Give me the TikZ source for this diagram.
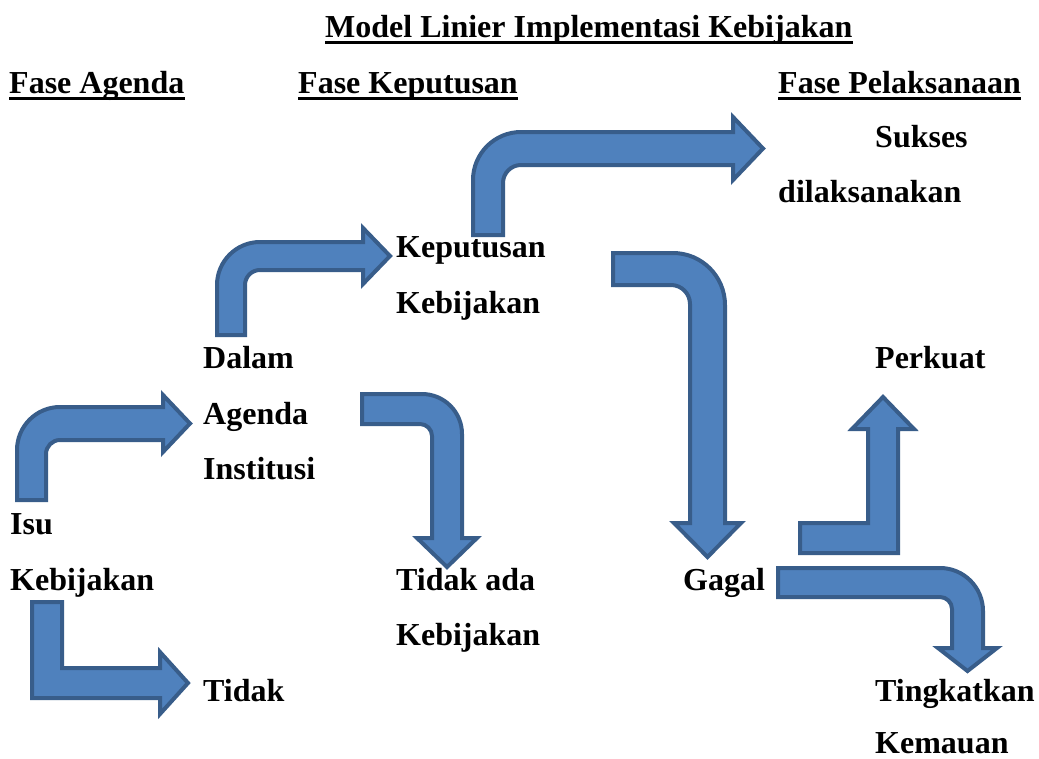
\documentclass[tikz,border=0pt]{standalone}
\usepackage{fontspec}
\setmainfont{Liberation Serif}
\usetikzlibrary{calc}
\definecolor{afill}{HTML}{4F81BD}
\definecolor{aline}{HTML}{385D8A}
\tikzset{
  blockarrow/.style={fill=afill, draw=aline, line width=4pt, line join=miter},
  lbl/.style={anchor=base west, inner sep=0pt, font=\fontsize{32}{38}\selectfont\bfseries},
  uline/.style={line width=2.6pt, black}
}
\begin{document}
\begin{tikzpicture}[x=1pt,y=-1pt]
\useasboundingbox (0,0) rectangle (1039,758);
% headings
\node[lbl] (title) at (325,37) {Model Linier Implementasi Kebijakan};
\node[lbl] (hA) at (9,93) {Fase Agenda};
\node[lbl] (hK) at (298,93) {Fase Keputusan};
\node[lbl] (hP) at (778,93) {Fase Pelaksanaan};
\foreach \n in {title,hA,hK,hP}{
  \draw[uline] ($(\n.base west)+(0,5.5)$) -- ($(\n.base east)+(0,5.5)$);
}
% labels
\node[lbl] (sukses1) at (875,147) {Sukses};
\node[lbl] (sukses2) at (778,202.4) {dilaksanakan};
\node[lbl] (kep1) at (396,257.8) {Keputusan};
\node[lbl] (kep2) at (396,313.2) {Kebijakan};
\node[lbl] (dal1) at (203,368.6) {Dalam};
\node[lbl] (dal2) at (203,424) {Agenda};
\node[lbl] (dal3) at (203,479.4) {Institusi};
\node[lbl] (perkuat) at (875,368.6) {Perkuat};
\node[lbl] (isu1) at (10,534.8) {Isu};
\node[lbl] (isu2) at (10,590.2) {Kebijakan};
\node[lbl] (tak1) at (396,590.2) {Tidak ada};
\node[lbl] (tak2) at (396,645.6) {Kebijakan};
\node[lbl] (gagal) at (683,590.2) {Gagal};
\node[lbl] (tidak) at (203,701) {Tidak};
\node[lbl] (ting1) at (875,701) {Tingkatkan};
\node[lbl, text depth=0pt] (ting2) at (875,753) {Kemauan};
% arrow: Isu -> Dalam Agenda
\draw[blockarrow] (17,500) -- (17,450) .. controls (17,426.3) and (36.3,407) .. (60,407) -- (163,407) -- (163,395) -- (190,423.5) -- (163,452) -- (163,440) -- (60,440) .. controls (52.3,440) and (46,446.3) .. (46,454) -- (46,500) -- cycle;
% arrow: Dalam -> Keputusan
\draw[blockarrow] (217,335) -- (217,285) .. controls (217,261.3) and (236.3,242) .. (260,242) -- (363,242) -- (363,228) -- (390,256) -- (363,284) -- (363,270) -- (260,270) .. controls (251.7,270) and (245,276.7) .. (245,285) -- (245,335) -- cycle;
% arrow: Keputusan -> Sukses
\draw[blockarrow] (473,235) -- (473,180) .. controls (473,153.5) and (494.5,132) .. (521,132) -- (733,132) -- (733,117) -- (763,148.5) -- (733,180) -- (733,165) -- (521,165) .. controls (511.1,165) and (503,173.1) .. (503,183) -- (503,235) -- cycle;
% arrow: Keputusan -> Gagal
\draw[blockarrow] (613,253) -- (673,253) .. controls (701.7,253) and (725,276.3) .. (725,305) -- (725,523) -- (741,523) -- (707.5,557) -- (674,523) -- (690,523) -- (690,304) .. controls (690,293.5) and (681.5,285) .. (671,285) -- (613,285) -- cycle;
% arrow: Dalam Agenda -> Tidak ada Kebijakan
\draw[blockarrow] (362,394) -- (422,394) .. controls (444.1,394) and (462,411.9) .. (462,434) -- (462,538) -- (477,538) -- (447,567) -- (417,538) -- (432,538) -- (432,436) .. controls (432,429.4) and (426.6,424) .. (420,424) -- (362,424) -- cycle;
% arrow: Isu -> Tidak
\draw[blockarrow] (32,602) -- (62,602) -- (62,668) -- (160,668) -- (160,652) -- (188,683) -- (160,714) -- (160,698) -- (32,698) -- cycle;
% arrow: Gagal -> Perkuat
\draw[blockarrow] (800,523) -- (868,523) -- (868,429) -- (852,429) -- (883,397) -- (914,429) -- (898,429) -- (898,553) -- (800,553) -- cycle;
% arrow: Gagal -> Tingkatkan Kemauan
\draw[blockarrow] (778,568) -- (940,568) .. controls (963.7,568) and (983,587.3) .. (983,611) -- (983,648) -- (997,648) -- (967.5,671) -- (938,648) -- (952,648) -- (952,609) .. controls (952,602.4) and (946.6,597) .. (940,597) -- (778,597) -- cycle;
\end{tikzpicture}
\end{document}
